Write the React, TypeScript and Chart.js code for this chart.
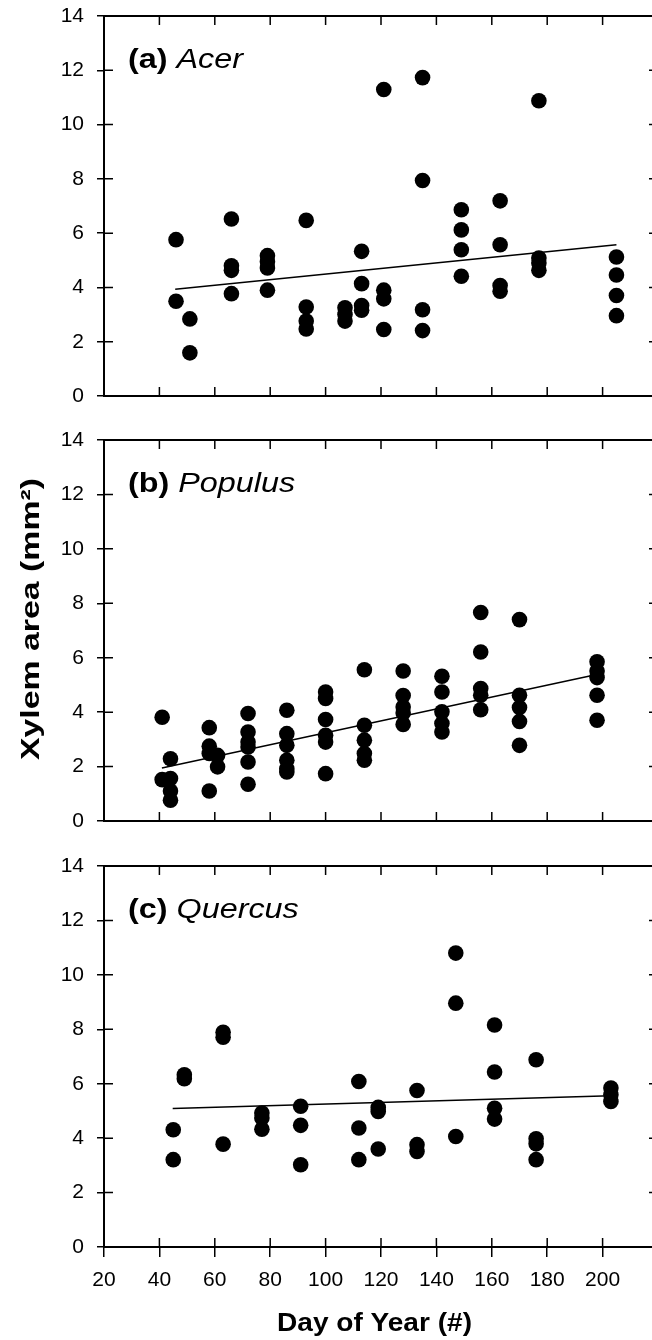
import React, { useEffect, useRef } from "react";
import { Chart, registerables } from "chart.js";

Chart.register(...registerables);

const FONT = '"Liberation Sans", Arial, Helvetica, sans-serif';

// Axis ticks
const xTickValues = [20, 40, 60, 80, 100, 120, 140, 160, 180, 200];
const yTickValues = [0, 2, 4, 6, 8, 10, 12, 14];
const xMin = 20;
const xMax = 220;
const yMin = 0;
const yMax = 14;

// (a) Acer
const acerDay = [46, 46, 51, 51, 66, 66, 66, 66, 79, 79, 79, 79, 93, 93, 93, 93, 107, 107, 107, 113, 113, 113, 113, 121, 121, 121, 121, 135, 135, 135, 135, 149, 149, 149, 149, 163, 163, 163, 163, 177, 177, 177, 177, 205, 205, 205, 205];
const acerArea = [5.76, 3.49, 2.84, 1.59, 6.52, 4.8, 4.63, 3.77, 5.17, 4.95, 4.72, 3.9, 6.47, 3.28, 2.76, 2.47, 3.25, 3.0, 2.76, 5.33, 4.14, 3.33, 3.16, 11.29, 3.9, 3.58, 2.45, 11.73, 7.94, 3.18, 2.41, 6.86, 6.12, 5.39, 4.41, 7.19, 5.57, 4.07, 3.86, 10.88, 5.08, 4.9, 4.63, 5.12, 4.46, 3.7, 2.96];
const acerFitDay = [45.7, 205];
const acerFitArea = [3.93, 5.57];

// (b) Populus
const populusDay = [41, 41, 44, 44, 44, 44, 58, 58, 58, 58, 61, 61, 72, 72, 72, 72, 72, 72, 86, 86, 86, 86, 86, 86, 100, 100, 100, 100, 100, 100, 114, 114, 114, 114, 114, 128, 128, 128, 128, 128, 142, 142, 142, 142, 142, 156, 156, 156, 156, 156, 170, 170, 170, 170, 170, 198, 198, 198, 198, 198];
const populusArea = [3.81, 1.52, 2.29, 1.56, 1.1, 0.76, 3.43, 2.75, 2.48, 1.1, 2.41, 1.99, 3.95, 3.27, 2.9, 2.72, 2.17, 1.35, 4.07, 3.21, 2.78, 2.23, 1.92, 1.8, 4.74, 4.5, 3.73, 3.15, 2.9, 1.74, 5.56, 3.52, 2.97, 2.48, 2.23, 5.51, 4.61, 4.19, 3.97, 3.55, 5.32, 4.74, 4.01, 3.58, 3.27, 7.66, 6.21, 4.87, 4.62, 4.09, 7.4, 4.62, 4.17, 3.66, 2.78, 5.85, 5.51, 5.27, 4.62, 3.7];
const populusFitDay = [40.9, 198.3];
const populusFitArea = [1.95, 5.39];

// (c) Quercus
const quercusDay = [45, 45, 49, 49, 63, 63, 63, 77, 77, 77, 91, 91, 91, 112, 112, 112, 119, 119, 119, 133, 133, 133, 147, 147, 147, 161, 161, 161, 161, 176, 176, 176, 176, 203, 203, 203];
const quercusArea = [4.31, 3.21, 6.33, 6.18, 7.89, 7.71, 3.78, 4.92, 4.74, 4.33, 5.17, 4.47, 3.02, 6.08, 4.37, 3.21, 5.13, 4.98, 3.6, 5.75, 3.76, 3.51, 10.8, 8.96, 4.06, 8.16, 6.43, 5.1, 4.7, 6.88, 3.98, 3.79, 3.21, 5.84, 5.59, 5.35];
const quercusFitDay = [44.8, 203];
const quercusFitArea = [5.09, 5.56];

const yTitle = "Xylem area (mm\u00B2)";
const xTitle = "Day of Year (#)";

type TextItem = {
  text: string;
  font: string;
  cx: number;
  baseline: number;
  rotate: number;
  length: number;
};

const framePlugin = {
  id: "frame",
  beforeDatasetsDraw(chart: any) {
    const { ctx, chartArea: a, scales } = chart;
    const xs = scales.x;
    const ys = scales.y;
    ctx.save();
    ctx.strokeStyle = "#000";
    ctx.lineWidth = 1.5;
    ctx.beginPath();
    xs.ticks.forEach((t: any) => {
      const px = xs.getPixelForValue(t.value);
      ctx.moveTo(px, a.bottom);
      ctx.lineTo(px, a.bottom - 9);
      ctx.moveTo(px, a.top);
      ctx.lineTo(px, a.top + 9);
    });
    ys.ticks.forEach((t: any) => {
      const py = ys.getPixelForValue(t.value);
      ctx.moveTo(a.left, py);
      ctx.lineTo(a.left + 9, py);
      ctx.moveTo(a.right, py);
      ctx.lineTo(a.right - 9, py);
    });
    ctx.stroke();
    ctx.lineWidth = 2;
    ctx.strokeRect(a.left, a.top, a.right - a.left, a.bottom - a.top);
    ctx.restore();
  },
};

function makeLabelPlugin(tag: string, name: string) {
  return {
    id: "panelLabel",
    afterDatasetsDraw(chart: any) {
      const { ctx, chartArea: a } = chart;
      ctx.save();
      ctx.translate(a.left + 24, a.top + 52);
      ctx.scale(1.155, 1);
      ctx.fillStyle = "#000";
      ctx.textBaseline = "alphabetic";
      ctx.textAlign = "left";
      ctx.font = `bold 28px ${FONT}`;
      ctx.fillText(tag, 0, 0);
      const w = ctx.measureText(tag + " ").width;
      ctx.font = `italic 28px ${FONT}`;
      ctx.fillText(name, w, 0);
      ctx.restore();
    },
  };
}

function makeTextPlugin(items: TextItem[]) {
  return {
    id: "freeText",
    afterDraw(chart: any) {
      const { ctx } = chart;
      items.forEach((it) => {
        ctx.save();
        ctx.font = it.font;
        const natural = ctx.measureText(it.text).width;
        ctx.translate(it.cx, it.baseline);
        ctx.rotate(it.rotate);
        ctx.scale(it.length / natural, 1);
        ctx.fillStyle = "#000";
        ctx.textAlign = "center";
        ctx.textBaseline = "alphabetic";
        ctx.fillText(it.text, 0, 0);
        ctx.restore();
      });
    },
  };
}

type Panel = {
  days: number[];
  area: number[];
  fitDay: number[];
  fitArea: number[];
  tag: string;
  name: string;
  padTop: number;
  xHeight: number;
  showX: boolean;
  texts: TextItem[];
};

const panels: Panel[] = [
  {
    days: acerDay, area: acerArea, fitDay: acerFitDay, fitArea: acerFitArea,
    tag: "(a)", name: "Acer", padTop: 16, xHeight: 24, showX: false, texts: [],
  },
  {
    days: populusDay, area: populusArea, fitDay: populusFitDay, fitArea: populusFitArea,
    tag: "(b)", name: "Populus", padTop: 20, xHeight: 19, showX: false,
    texts: [{ text: yTitle, font: `bold 25px ${FONT}`, cx: 38.5, baseline: 199, rotate: -Math.PI / 2, length: 282 }],
  },
  {
    days: quercusDay, area: quercusArea, fitDay: quercusFitDay, fitArea: quercusFitArea,
    tag: "(c)", name: "Quercus", padTop: 26, xHeight: 93, showX: true,
    texts: [{ text: xTitle, font: `bold 25px ${FONT}`, cx: 374.5, baseline: 491, rotate: 0, length: 195 }],
  },
];

function zeroPadding(s: any) {
  s.paddingTop = 0;
  s.paddingBottom = 0;
  s.paddingLeft = 0;
  s.paddingRight = 0;
}

function buildConfig(p: Panel): any {
  return {
    type: "scatter",
    data: {
      datasets: [
        {
          data: p.days.map((d, i) => ({ x: d, y: p.area[i] })),
          backgroundColor: "#000",
          borderColor: "#000",
          borderWidth: 0,
          pointRadius: 7.8,
          pointHoverRadius: 7.8,
        },
        {
          data: p.fitDay.map((d, i) => ({ x: d, y: p.fitArea[i] })),
          showLine: true,
          borderColor: "#000",
          backgroundColor: "#000",
          borderWidth: 1.5,
          pointRadius: 0,
          fill: false,
        },
      ],
    },
    options: {
      responsive: false,
      animation: false,
      devicePixelRatio: 1,
      events: [],
      layout: { autoPadding: false, padding: { top: p.padTop, right: 2, bottom: 0, left: 0 } },
      plugins: { legend: { display: false }, tooltip: { enabled: false } },
      scales: {
        x: {
          type: "linear",
          min: xMin,
          max: xMax,
          afterBuildTicks: (s: any) => {
            s.ticks = xTickValues.map((v) => ({ value: v }));
          },
          afterFit: (s: any) => {
            s.height = p.xHeight;
            zeroPadding(s);
          },
          border: { display: false },
          grid: p.showX
            ? { display: true, drawOnChartArea: false, drawTicks: true, tickLength: 10, color: "#000", lineWidth: 1.5 }
            : { display: false },
          ticks: {
            display: p.showX,
            color: "#000",
            padding: 11,
            maxRotation: 0,
            autoSkip: false,
            font: { family: FONT, size: 21 },
          },
        },
        y: {
          type: "linear",
          min: yMin,
          max: yMax,
          afterBuildTicks: (s: any) => {
            s.ticks = yTickValues.map((v) => ({ value: v }));
          },
          afterFit: (s: any) => {
            s.width = 104;
            zeroPadding(s);
          },
          border: { display: false },
          grid: { display: true, drawOnChartArea: false, drawTicks: true, tickLength: 7, color: "#000", lineWidth: 1.5 },
          ticks: {
            color: "#000",
            padding: 13,
            autoSkip: false,
            font: { family: FONT, size: 21 },
          },
        },
      },
    },
    plugins: [framePlugin, makeLabelPlugin(p.tag, p.name), makeTextPlugin(p.texts)],
  };
}

export default function App() {
  const refA = useRef<HTMLCanvasElement | null>(null);
  const refB = useRef<HTMLCanvasElement | null>(null);
  const refC = useRef<HTMLCanvasElement | null>(null);

  useEffect(() => {
    const refs = [refA, refB, refC];
    const charts = panels.map((p, i) => new Chart(refs[i].current as HTMLCanvasElement, buildConfig(p)));
    return () => charts.forEach((c) => c.destroy());
  }, []);

  return (
    <div
      style={{
        position: "absolute",
        left: 0,
        top: 0,
        width: 652,
        height: 1340,
        overflow: "hidden",
        background: "#fff",
      }}
    >
      <canvas ref={refA} width={660} height={420} style={{ position: "absolute", left: 0, top: 0, width: 660, height: 420 }} />
      <canvas ref={refB} width={660} height={420} style={{ position: "absolute", left: 0, top: 420, width: 660, height: 420 }} />
      <canvas ref={refC} width={660} height={500} style={{ position: "absolute", left: 0, top: 840, width: 660, height: 500 }} />
    </div>
  );
}
